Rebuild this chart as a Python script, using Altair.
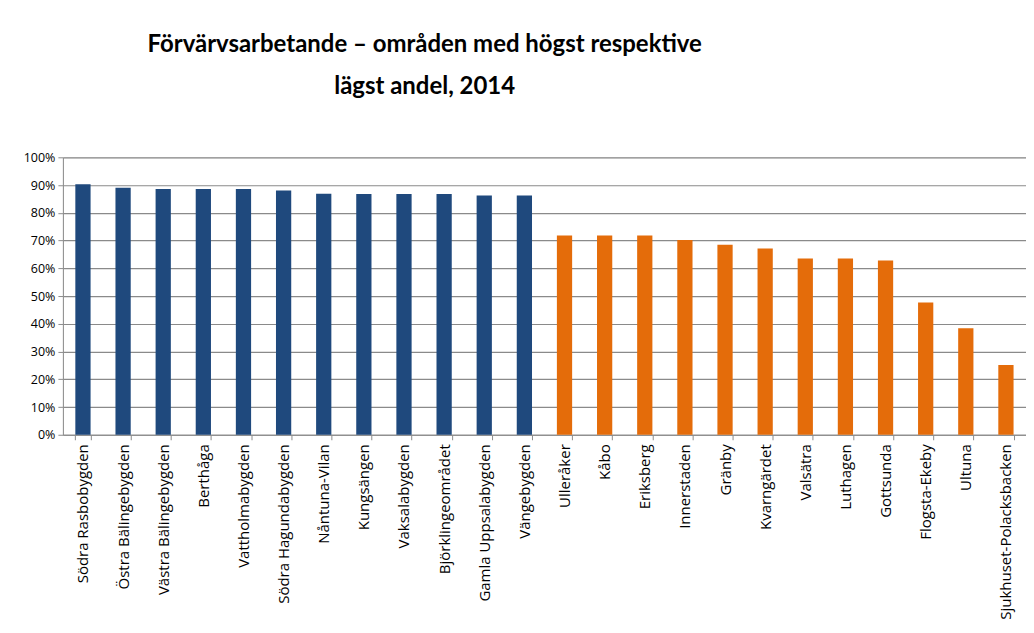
import altair as alt
import pandas as pd

omraden = ["Södra Rasbobygden", "Östra Bälingebygden", "Västra Bälingebygden", "Berthåga",
           "Vattholmabygden", "Södra Hagundabygden", "Nåntuna-Vilan", "Kungsängen",
           "Vaksalabygden", "Björklingeområdet", "Gamla Uppsalabygden", "Vängebygden",
           "Ulleråker", "Kåbo", "Eriksberg", "Innerstaden", "Gränby", "Kvarngärdet",
           "Valsätra", "Luthagen", "Gottsunda", "Flogsta-Ekeby", "Ultuna",
           "Sjukhuset-Polacksbacken"]
andel = [0.903, 0.890, 0.886, 0.886, 0.886, 0.880, 0.869, 0.868, 0.868, 0.868, 0.862, 0.862,
         0.718, 0.718, 0.718, 0.702, 0.685, 0.671, 0.635, 0.635, 0.628, 0.477, 0.384, 0.251]
grupp = ["högst"] * 12 + ["lägst"] * 12

df = pd.DataFrame({"omrade": omraden, "andel": andel, "grupp": grupp})

title_font = "Lato, sans-serif"
label_font = "Open Sans, sans-serif"

chart = alt.Chart(df).mark_bar().encode(
    x=alt.X("omrade:N", sort=omraden, title=None,
            scale=alt.Scale(paddingInner=0.62, paddingOuter=0.31),
            axis=alt.Axis(labelAngle=-90, labelFont=label_font, labelFontSize=15,
                          labelColor="#000000", tickBand="extent", tickSize=5,
                          tickColor="#8c8c8c", domainColor="#8c8c8c", labelPadding=4,
                          labelLimit=300)),
    y=alt.Y("andel:Q", title=None,
            scale=alt.Scale(domain=[0, 1], nice=False),
            axis=alt.Axis(format=".0%", values=[i / 10 for i in range(11)],
                          labelFont=label_font, labelFontSize=12.5, labelColor="#000000",
                          grid=True, gridColor="#8a8a8a", gridWidth=1.2,
                          tickColor="#8c8c8c", tickSize=5, domainColor="#8c8c8c",
                          labelPadding=3, minExtent=40, maxExtent=40)),
    color=alt.Color("grupp:N", legend=None,
                    scale=alt.Scale(domain=["högst", "lägst"], range=["#1F497D", "#E46C0A"])),
).properties(
    width=965,
    height=278,
    padding={"left": 15, "top": 24, "right": 0, "bottom": 0},
    title=alt.TitleParams(
        text=["Förvärvsarbetande – områden med högst respektive", "lägst andel, 2014"],
        font=title_font, fontSize=24, fontWeight="bold", color="#000000",
        anchor="middle", dx=-120, lineHeight=43, offset=52,
    ),
).configure_view(stroke=None).configure(background="#ffffff")

chart.save("out.html", embed_options={"renderer": "svg", "actions": False})
